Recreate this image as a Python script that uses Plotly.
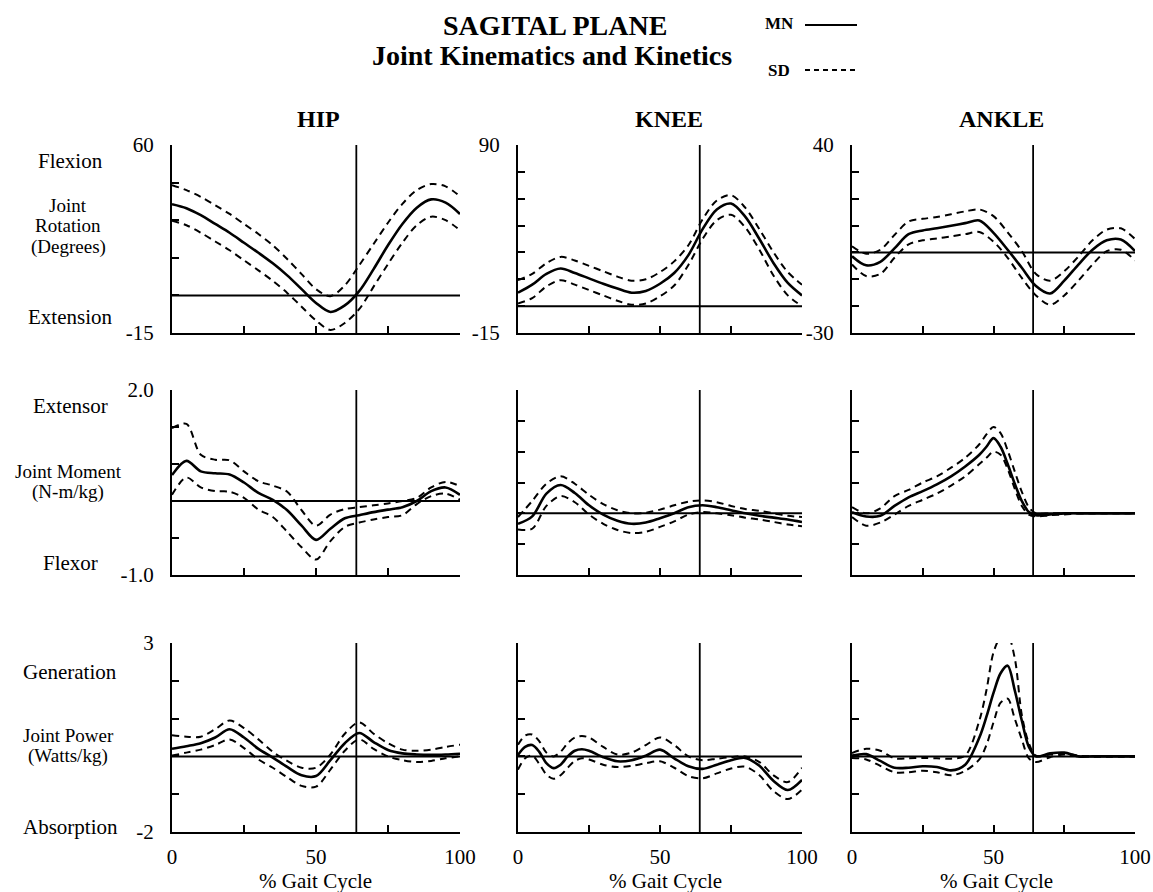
import plotly.graph_objects as go

# ---------------- data ----------------
X_GAIT = [0, 5, 10, 15, 20, 25, 30, 35, 40, 45, 50, 55, 60, 65, 70, 75, 80, 85, 90, 95, 100]
X_KNEE_POW = [0, 2.5, 5, 7.5, 10, 12.5, 15, 17.5, 20, 22.5, 25, 30, 35, 40, 45, 50, 55, 60, 65, 70, 75, 80, 85, 90, 95, 100]
X_ANKLE_KIN = [0, 5, 10, 15, 20, 25, 30, 35, 40, 45, 47.5, 50, 52.5, 55, 57.5, 60, 62.5, 65, 70, 75, 80, 85, 90, 95, 100]

# Joint rotation (degrees)
HIP_ROT_MN = [36.4, 34.8, 32.0, 28.5, 25.0, 21.0, 17.0, 12.8, 8.0, 2.5, -3.0, -6.6, -4.0, 1.7, 10.5, 20.0, 28.5, 35.0, 38.3, 37.0, 32.5]
HIP_ROT_UP = [44.0, 42.0, 39.3, 36.0, 32.5, 28.5, 24.5, 20.0, 14.5, 8.5, 2.5, -0.3, 4.0, 12.0, 20.5, 29.0, 36.5, 42.0, 44.4, 43.5, 39.5]
HIP_ROT_LO = [29.8, 28.0, 25.0, 21.5, 18.0, 14.0, 10.0, 5.8, 1.0, -4.5, -10.0, -13.8, -11.0, -5.5, 3.5, 12.5, 21.0, 28.0, 31.4, 30.0, 26.0]

KNEE_ROT_MN = [7.5, 12.0, 18.0, 21.0, 18.5, 15.5, 12.5, 9.8, 7.5, 8.5, 12.5, 18.5, 28.5, 43.0, 54.0, 57.3, 50.0, 37.5, 24.0, 13.0, 6.0]
KNEE_ROT_UP = [14.5, 18.0, 24.0, 27.5, 25.5, 22.5, 19.5, 16.5, 14.2, 15.0, 19.0, 25.0, 34.0, 48.5, 59.0, 62.0, 55.0, 43.0, 30.0, 19.0, 12.0]
KNEE_ROT_LO = [1.5, 4.5, 11.0, 14.5, 12.0, 9.0, 6.0, 3.0, 0.8, 1.5, 5.5, 11.5, 23.0, 37.5, 48.0, 51.0, 44.0, 31.5, 17.0, 6.0, 0.0]

ANK_ROT_MN = [-1.4, -4.8, -3.5, 1.5, 6.8, 8.2, 9.0, 9.9, 10.9, 11.9, 7.3, 1.0, -5.7, -12.5, -15.3, -10.5, -4.5, 1.0, 4.5, 4.8, 0.5]
ANK_ROT_UP = [2.3, -0.5, 1.0, 6.5, 11.5, 12.5, 13.2, 14.2, 15.3, 16.0, 13.5, 7.5, 0.5, -8.0, -10.5, -7.0, -1.5, 4.5, 8.5, 9.0, 5.0]
ANK_ROT_LO = [-4.5, -8.8, -8.0, -2.0, 3.0, 4.5, 5.2, 6.0, 6.8, 7.6, 4.0, -2.0, -9.5, -16.0, -19.5, -16.0, -10.5, -4.5, 0.5, 1.0, -3.0]

# Joint moment (N-m/kg)
HIP_MOM_MN = [0.62, 0.85, 0.68, 0.65, 0.63, 0.50, 0.33, 0.22, 0.05, -0.20, -0.43, -0.25, -0.08, -0.03, 0.02, 0.06, 0.10, 0.20, 0.36, 0.42, 0.30]
HIP_MOM_UP = [1.38, 1.45, 0.95, 0.87, 0.86, 0.68, 0.52, 0.45, 0.35, 0.05, -0.20, -0.02, 0.07, 0.10, 0.13, 0.16, 0.20, 0.25, 0.42, 0.51, 0.44]
HIP_MOM_LO = [0.30, 0.58, 0.42, 0.36, 0.35, 0.25, 0.06, -0.06, -0.30, -0.55, -0.75, -0.45, -0.22, -0.15, -0.10, -0.06, -0.03, 0.15, 0.28, 0.32, 0.22]

KNEE_MOM_MN = [-0.17, -0.05, 0.32, 0.46, 0.33, 0.13, -0.02, -0.12, -0.17, -0.15, -0.08, 0.0, 0.10, 0.13, 0.10, 0.05, 0.0, -0.04, -0.07, -0.10, -0.14]
KNEE_MOM_UP = [-0.06, 0.20, 0.48, 0.60, 0.48, 0.30, 0.15, 0.05, 0.0, 0.01, 0.06, 0.13, 0.19, 0.21, 0.18, 0.12, 0.07, 0.04, 0.0, -0.04, -0.06]
KNEE_MOM_LO = [-0.26, -0.25, 0.12, 0.28, 0.18, -0.02, -0.17, -0.27, -0.32, -0.30, -0.22, -0.13, -0.02, 0.02, 0.0, -0.03, -0.07, -0.10, -0.14, -0.18, -0.21]

ANK_MOM_MN = [0.02, -0.05, -0.04, 0.12, 0.26, 0.36, 0.47, 0.60, 0.76, 0.95, 1.08, 1.22, 1.08, 0.80, 0.48, 0.20, 0.02, -0.03, -0.02, 0.0, 0.0, 0.0, 0.0, 0.0, 0.0]
ANK_MOM_UP = [0.10, 0.0, 0.08, 0.28, 0.38, 0.50, 0.60, 0.74, 0.90, 1.12, 1.28, 1.40, 1.30, 1.02, 0.68, 0.35, 0.10, 0.0, 0.0, 0.0, 0.0, 0.0, 0.0, 0.0, 0.0]
ANK_MOM_LO = [-0.06, -0.20, -0.15, -0.02, 0.12, 0.22, 0.32, 0.45, 0.60, 0.80, 0.90, 1.00, 0.95, 0.72, 0.40, 0.12, -0.02, -0.05, -0.03, -0.02, 0.0, 0.0, 0.0, 0.0, 0.0]

# Joint power (Watts/kg)
HIP_POW_MN = [0.20, 0.27, 0.35, 0.50, 0.72, 0.50, 0.20, -0.03, -0.28, -0.50, -0.52, -0.10, 0.35, 0.62, 0.38, 0.17, 0.08, 0.05, 0.04, 0.05, 0.07]
HIP_POW_UP = [0.56, 0.52, 0.52, 0.72, 0.95, 0.75, 0.45, 0.12, -0.12, -0.30, -0.30, 0.05, 0.60, 0.90, 0.60, 0.35, 0.18, 0.15, 0.18, 0.25, 0.31]
HIP_POW_LO = [0.02, 0.10, 0.18, 0.30, 0.45, 0.22, -0.08, -0.30, -0.55, -0.78, -0.80, -0.35, 0.15, 0.45, 0.20, 0.0, -0.10, -0.15, -0.12, -0.05, 0.0]

KNEE_POW_MN = [0.04, 0.25, 0.30, 0.12, -0.18, -0.31, -0.22, 0.0, 0.15, 0.19, 0.15, -0.02, -0.13, -0.10, 0.02, 0.18, -0.05, -0.26, -0.33, -0.22, -0.10, -0.04, -0.25, -0.65, -0.89, -0.62]
KNEE_POW_UP = [0.31, 0.55, 0.58, 0.40, 0.10, 0.0, 0.12, 0.35, 0.50, 0.54, 0.50, 0.25, 0.05, 0.10, 0.30, 0.50, 0.30, 0.0, -0.10, -0.06, -0.02, 0.0, -0.15, -0.50, -0.68, -0.30]
KNEE_POW_LO = [-0.35, -0.05, 0.02, -0.20, -0.48, -0.59, -0.50, -0.30, -0.12, -0.05, -0.08, -0.22, -0.28, -0.25, -0.18, -0.13, -0.30, -0.52, -0.58, -0.45, -0.32, -0.27, -0.50, -0.92, -1.13, -0.88]

ANK_POW_MN = [0.02, 0.06, -0.12, -0.30, -0.30, -0.26, -0.28, -0.37, -0.22, 0.50, 1.05, 1.68, 2.20, 2.40, 1.75, 0.95, 0.25, 0.0, 0.08, 0.10, 0.0, 0.0, 0.0, 0.0, 0.0]
ANK_POW_UP = [0.09, 0.20, 0.15, -0.05, -0.05, -0.04, -0.05, -0.06, 0.02, 0.95, 1.75, 2.75, 3.15, 3.20, 2.60, 1.10, 0.35, 0.02, 0.05, 0.08, 0.02, 0.0, 0.0, 0.0, 0.0]
ANK_POW_LO = [-0.04, -0.08, -0.25, -0.42, -0.42, -0.38, -0.42, -0.50, -0.38, -0.08, 0.30, 0.90, 1.42, 1.53, 1.00, 0.45, -0.05, -0.15, -0.02, 0.05, 0.0, 0.0, 0.0, 0.0, 0.0]

TOE_OFF = 64  # % gait cycle (vertical line)

COLUMN_TITLES = ["HIP", "KNEE", "ANKLE"]
ROW_TEXT_TOP = ["Flexion", "Extensor", "Generation"]
ROW_TEXT_MID = [["Joint", "Rotation", "(Degrees)"], ["Joint Moment", "(N-m/kg)"], ["Joint Power", "(Watts/kg)"]]
ROW_TEXT_BOT = ["Extension", "Flexor", "Absorption"]

ROT_RANGES = [[-15, 60], [-15, 90], [-30, 40]]
ROT_TICKS = [[-15, 0, 15, 30, 45, 60], [-15, 0, 15, 30, 45, 60, 75, 90], [-30, -20, -10, 0, 10, 20, 30, 40]]
ROT_LABELS = [["-15", "", "", "", "", "60"], ["-15", "", "", "", "", "", "", "90"], ["-30", "", "", "", "", "", "", "40"]]
MOM_RANGE = [-1.0, 2.0]
MOM_TICKS = [[-1.0, -0.4, 0.2, 0.8, 1.4, 2.0], [-1.0, -0.5, 0, 0.5, 1.0, 1.5, 2.0], [-1.0, -0.5, 0, 0.5, 1.0, 1.5, 2.0]]
MOM_LABELS = [["-1.0", "", "", "", "", "2.0"], [""] * 7, [""] * 7]
MOM_BASE = [0.2, 0.0, 0.0]
POW_RANGE = [-2, 3]
POW_TICKS = [-2, -1, 0, 1, 2, 3]
POW_LABELS = [["-2", "", "", "", "", "3"], [""] * 6, [""] * 6]
X_TICKS = [0, 25, 50, 75, 100]
X_LABELS = ["0", "", "50", "", "100"]
X_TITLE = "% Gait Cycle"

# ---------------- panel table built from the arrays ----------------
panels = [
    dict(x=X_GAIT, mn=HIP_ROT_MN, up=HIP_ROT_UP, lo=HIP_ROT_LO, yr=ROT_RANGES[0], yt=ROT_TICKS[0], yl=ROT_LABELS[0], base=0),
    dict(x=X_GAIT, mn=KNEE_ROT_MN, up=KNEE_ROT_UP, lo=KNEE_ROT_LO, yr=ROT_RANGES[1], yt=ROT_TICKS[1], yl=ROT_LABELS[1], base=0),
    dict(x=X_GAIT, mn=ANK_ROT_MN, up=ANK_ROT_UP, lo=ANK_ROT_LO, yr=ROT_RANGES[2], yt=ROT_TICKS[2], yl=ROT_LABELS[2], base=0),
    dict(x=X_GAIT, mn=HIP_MOM_MN, up=HIP_MOM_UP, lo=HIP_MOM_LO, yr=MOM_RANGE, yt=MOM_TICKS[0], yl=MOM_LABELS[0], base=MOM_BASE[0]),
    dict(x=X_GAIT, mn=KNEE_MOM_MN, up=KNEE_MOM_UP, lo=KNEE_MOM_LO, yr=MOM_RANGE, yt=MOM_TICKS[1], yl=MOM_LABELS[1], base=MOM_BASE[1]),
    dict(x=X_ANKLE_KIN, mn=ANK_MOM_MN, up=ANK_MOM_UP, lo=ANK_MOM_LO, yr=MOM_RANGE, yt=MOM_TICKS[2], yl=MOM_LABELS[2], base=MOM_BASE[2]),
    dict(x=X_GAIT, mn=HIP_POW_MN, up=HIP_POW_UP, lo=HIP_POW_LO, yr=POW_RANGE, yt=POW_TICKS, yl=POW_LABELS[0], base=0),
    dict(x=X_KNEE_POW, mn=KNEE_POW_MN, up=KNEE_POW_UP, lo=KNEE_POW_LO, yr=POW_RANGE, yt=POW_TICKS, yl=POW_LABELS[1], base=0),
    dict(x=X_ANKLE_KIN, mn=ANK_POW_MN, up=ANK_POW_UP, lo=ANK_POW_LO, yr=POW_RANGE, yt=POW_TICKS, yl=POW_LABELS[2], base=0),
]

# ---------------- layout geometry (pixels) ----------------
W, H = 1153, 892
COL_PX = [(172, 460), (518, 802), (852, 1135)]
ROW_PX = [(145, 333), (390, 575), (643, 832)]
SERIF = "Liberation Serif, Times New Roman, serif"
BLACK = "#000000"


def px(xp):
    return xp / W


def py(yp):
    return 1 - yp / H


fig = go.Figure()
layout_axes = {}

for i, p in enumerate(panels):
    r, c = divmod(i, 3)
    n = i + 1
    xa = "x" if n == 1 else f"x{n}"
    ya = "y" if n == 1 else f"y{n}"
    common = dict(xaxis=xa, yaxis=ya, mode="lines", hoverinfo="skip", showlegend=False)
    for key in ("up", "lo"):
        fig.add_trace(go.Scatter(x=p["x"], y=p[key], line=dict(color=BLACK, width=2, dash="7px,5px", shape="spline", smoothing=0.9), **common))
    fig.add_trace(go.Scatter(x=p["x"], y=p["mn"], line=dict(color=BLACK, width=2.6, shape="spline", smoothing=0.9), **common))
    fig.add_trace(go.Scatter(x=[X_TICKS[0], X_TICKS[-1]], y=[p["base"], p["base"]], line=dict(color=BLACK, width=2), **common))
    fig.add_trace(go.Scatter(x=[TOE_OFF, TOE_OFF], y=p["yr"], line=dict(color=BLACK, width=1.8), **common))

    x0, x1 = COL_PX[c]
    y0, y1 = ROW_PX[r]
    axname = "" if n == 1 else str(n)
    layout_axes[f"xaxis{axname}"] = dict(
        domain=[px(x0), px(x1)], range=[X_TICKS[0], X_TICKS[-1]], anchor=ya, automargin=False,
        showline=True, linewidth=2, linecolor=BLACK, mirror=False,
        ticks="inside", ticklen=7, tickwidth=1.6, tickcolor=BLACK,
        tickmode="array", tickvals=X_TICKS, ticktext=X_LABELS,
        showticklabels=(r == 2), ticklabelstandoff=5,
        tickfont=dict(family=SERIF, size=21, color=BLACK),
        showgrid=False, zeroline=False, fixedrange=True,
    )
    layout_axes[f"yaxis{axname}"] = dict(
        domain=[py(y1), py(y0)], range=p["yr"], anchor=xa, automargin=False,
        showline=True, linewidth=2, linecolor=BLACK, mirror=False,
        ticks="inside", ticklen=7, tickwidth=1.6, tickcolor=BLACK,
        tickmode="array", tickvals=p["yt"], ticktext=p["yl"],
        showticklabels=True, ticklabelstandoff=12,
        tickfont=dict(family=SERIF, size=21, color=BLACK),
        showgrid=False, zeroline=False, fixedrange=True,
    )

annotations = []


def txt(text, xp, yp, size=21, bold=False, xanchor="center"):
    annotations.append(dict(
        text=f"<b>{text}</b>" if bold else text, x=px(xp), y=py(yp), xref="paper", yref="paper",
        showarrow=False, xanchor=xanchor, yanchor="middle",
        font=dict(family=SERIF, size=size, color=BLACK),
    ))


txt("SAGITAL PLANE", 555, 26, size=28, bold=True)
txt("Joint Kinematics and Kinetics", 552, 56, size=28, bold=True)
txt("MN", 779, 24, size=17, bold=True)
txt("SD", 779, 71, size=17, bold=True)
for name, xc in zip(COLUMN_TITLES, [318, 669, 1001]):
    txt(name, xc, 119, size=24, bold=True)
top_y = [161, 406, 672]
mid_y = [[205, 226, 247], [471, 492], [735, 756]]
bot_y = [317, 563, 827]
for r in range(3):
    txt(ROW_TEXT_TOP[r], 70, top_y[r])
    for line, yy in zip(ROW_TEXT_MID[r], mid_y[r]):
        txt(line, 68, yy, size=19)
    txt(ROW_TEXT_BOT[r], 70, bot_y[r])
for xc in [315, 665, 997]:
    txt(X_TITLE, xc, 881)

shapes = [
    dict(type="line", xref="paper", yref="paper", x0=px(805), x1=px(857), y0=py(25), y1=py(25),
         line=dict(color=BLACK, width=2)),
    dict(type="line", xref="paper", yref="paper", x0=px(805), x1=px(857), y0=py(70), y1=py(70),
         line=dict(color=BLACK, width=2, dash="5px,4px")),
]

fig.update_layout(
    width=W, height=H, margin=dict(l=0, r=0, t=0, b=0, pad=0, autoexpand=False),
    paper_bgcolor="white", plot_bgcolor="white",
    showlegend=False, annotations=annotations, shapes=shapes,
    font=dict(family=SERIF, color=BLACK),
    **layout_axes,
)

fig.write_html(
    "out.html",
    config={"displayModeBar": False, "responsive": False},
    post_script="document.body.style.margin='0px';document.body.style.overflow='hidden';",
)
